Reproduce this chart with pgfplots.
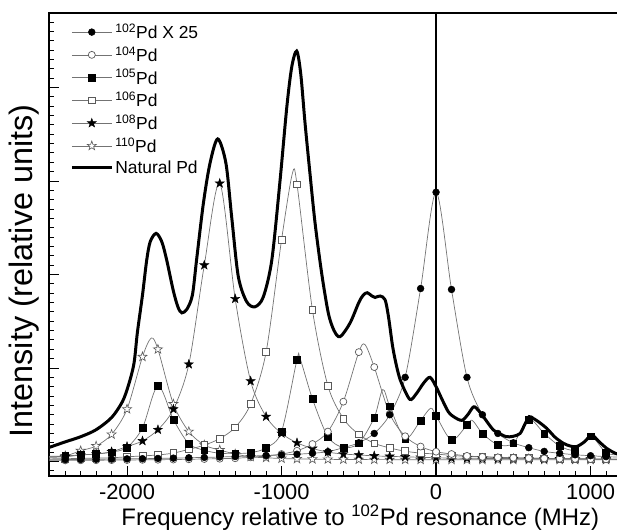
\documentclass[border=0pt]{standalone}
\usepackage{pgfplots}
\pgfplotsset{compat=1.18}
\usepackage{pgfplotstable}
\usepackage{fontspec}
\setmainfont{Liberation Sans}

\pgfdeclareplotmark{pstar}{%
  \pgfpathmoveto{\pgfpointpolar{90}{\pgfplotmarksize}}%
  \pgfpathlineto{\pgfpointpolar{126}{0.4\pgfplotmarksize}}%
  \pgfpathlineto{\pgfpointpolar{162}{\pgfplotmarksize}}%
  \pgfpathlineto{\pgfpointpolar{198}{0.4\pgfplotmarksize}}%
  \pgfpathlineto{\pgfpointpolar{234}{\pgfplotmarksize}}%
  \pgfpathlineto{\pgfpointpolar{270}{0.4\pgfplotmarksize}}%
  \pgfpathlineto{\pgfpointpolar{306}{\pgfplotmarksize}}%
  \pgfpathlineto{\pgfpointpolar{342}{0.4\pgfplotmarksize}}%
  \pgfpathlineto{\pgfpointpolar{18}{\pgfplotmarksize}}%
  \pgfpathlineto{\pgfpointpolar{54}{0.4\pgfplotmarksize}}%
  \pgfpathclose
  \pgfusepathqfillstroke
}

\pgfplotsset{
  isoline/.style={color=black!55, line width=0.7bp, smooth, tension=0.5, forget plot},
  isomarks/.style={only marks, forget plot, unbounded coords=discard},
  m102/.style={mark=*, mark size=3.4bp, mark options={fill=black, draw=black, line width=0.5bp}},
  m104/.style={mark=*, mark size=3.5bp, mark options={fill=white, draw=black!65, line width=0.7bp}},
  m105/.style={mark=square*, mark size=3.4bp, mark options={fill=black, draw=black, line width=0.5bp}},
  m106/.style={mark=square*, mark size=3.4bp, mark options={fill=white, draw=black!65, line width=0.7bp}},
  m108/.style={mark=pstar, mark size=4.8bp, mark options={fill=black, draw=black, line width=0.4bp}},
  m110/.style={mark=pstar, mark size=4.8bp, mark options={fill=white, draw=black!65, line width=0.6bp}},
}

% columns: x, y (line), ym (marker; nan = no marker)
\pgfplotstableread{
x y ym
-2505 0.018 nan
-2400 0.020 0.020
-2300 0.022 0.022
-2200 0.024 0.024
-2100 0.026 0.026
-2000 0.028 0.028
-1900 0.030 0.030
-1800 0.033 0.033
-1700 0.036 0.036
-1600 0.040 0.040
-1500 0.044 0.044
-1400 0.048 0.048
-1300 0.053 0.053
-1200 0.058 0.058
-1100 0.064 0.064
-1000 0.070 0.070
-900 0.078 0.078
-800 0.088 0.088
-700 0.105 0.105
-600 0.148 0.148
-500 0.200 0.200
-400 0.300 0.300
-300 0.500 0.500
-200 0.900 0.900
-100 1.850 1.850
0 2.880 2.880
100 1.840 1.840
200 0.900 0.900
300 0.500 0.500
400 0.300 0.300
500 0.200 0.200
600 0.148 0.148
700 0.108 0.108
800 0.088 0.088
900 0.072 0.072
1000 0.062 0.062
1100 0.052 0.052
1190 0.047 nan
}\tabA

\pgfplotstableread{
x y ym
-2505 0.012 nan
-2400 0.012 0.012
-2300 0.013 0.013
-2200 0.014 0.014
-2100 0.015 0.015
-2000 0.016 0.016
-1900 0.018 0.018
-1800 0.019 0.019
-1700 0.021 0.021
-1600 0.024 0.024
-1500 0.027 0.027
-1400 0.030 0.030
-1300 0.035 0.035
-1200 0.045 0.045
-1100 0.060 0.060
-1000 0.080 0.080
-900 0.115 0.115
-800 0.187 0.187
-700 0.320 0.320
-600 0.640 0.640
-500 1.170 1.170
-460 1.250 nan
-400 1.010 1.010
-300 0.510 0.510
-200 0.270 0.270
-100 0.160 0.160
0 0.105 0.105
100 0.080 0.080
200 0.060 0.060
300 0.050 0.050
400 0.044 0.044
500 0.040 0.040
600 0.036 0.036
700 0.033 0.033
800 0.030 0.030
900 0.028 0.028
1000 0.026 0.026
1100 0.024 0.024
1190 0.023 nan
}\tabB

\pgfplotstableread{
x y ym
-2505 0.055 nan
-2400 0.060 0.060
-2300 0.070 0.070
-2200 0.080 0.080
-2100 0.100 0.100
-2000 0.150 0.150
-1900 0.360 0.360
-1800 0.810 0.810
-1700 0.450 0.450
-1600 0.190 0.190
-1500 0.120 0.120
-1400 0.088 0.088
-1300 0.085 0.085
-1200 0.095 0.095
-1100 0.145 0.145
-1000 0.320 0.320
-900 1.090 1.090
-880 1.100 nan
-800 0.670 0.670
-700 0.265 0.265
-600 0.150 0.150
-500 0.195 0.195
-400 0.470 0.470
-345 0.770 nan
-300 0.590 0.590
-200 0.245 0.245
-100 0.440 0.440
-35 0.570 nan
0 0.490 0.490
100 0.230 0.230
200 0.390 0.390
235 0.440 nan
300 0.300 0.300
400 0.180 0.180
500 0.195 0.195
600 0.450 0.450
700 0.300 0.300
800 0.166 0.166
900 0.123 0.123
1000 0.270 0.270
1100 0.094 0.094
1190 0.070 nan
}\tabC

\pgfplotstableread{
x y ym
-2505 0.028 nan
-2400 0.030 0.030
-2300 0.033 0.033
-2200 0.036 0.036
-2100 0.040 0.040
-2000 0.050 0.050
-1900 0.060 0.060
-1800 0.070 0.070
-1700 0.090 0.090
-1600 0.130 0.130
-1500 0.175 0.175
-1400 0.245 0.245
-1300 0.365 0.365
-1200 0.615 0.615
-1100 1.170 1.170
-1000 2.370 2.370
-930 3.080 nan
-900 2.965 2.965
-800 1.620 1.620
-700 0.810 0.810
-600 0.460 0.460
-500 0.290 0.290
-400 0.195 0.195
-300 0.145 0.145
-200 0.110 0.110
-100 0.090 0.090
0 0.080 0.080
100 0.065 0.065
200 0.055 0.055
300 0.050 0.050
400 0.045 0.045
500 0.040 0.040
600 0.037 0.037
700 0.034 0.034
800 0.032 0.032
900 0.030 0.030
1000 0.028 0.028
1100 0.026 0.026
1190 0.025 nan
}\tabD

\pgfplotstableread{
x y ym
-2505 0.045 nan
-2400 0.050 0.050
-2300 0.070 0.070
-2200 0.080 0.080
-2100 0.105 0.105
-2000 0.160 0.160
-1900 0.220 0.220
-1800 0.340 0.340
-1700 0.560 0.560
-1600 1.040 1.040
-1500 2.100 2.100
-1400 2.975 2.975
-1300 1.740 1.740
-1200 0.860 0.860
-1100 0.480 0.480
-1000 0.300 0.300
-900 0.200 0.200
-800 0.140 0.140
-700 0.100 0.100
-600 0.080 0.080
-500 0.070 0.070
-400 0.060 0.060
-300 0.055 0.055
-200 0.050 0.050
-100 0.045 0.045
0 0.040 0.040
100 0.037 0.037
200 0.035 0.035
300 0.033 0.033
400 0.032 0.032
500 0.031 0.031
600 0.030 0.030
700 0.029 0.029
800 0.028 0.028
900 0.027 0.027
1000 0.026 0.026
1100 0.025 0.025
1190 0.024 nan
}\tabE

\pgfplotstableread{
x y ym
-2505 0.050 nan
-2400 0.060 0.060
-2300 0.115 0.115
-2200 0.166 0.166
-2100 0.290 0.290
-2000 0.560 0.560
-1900 1.120 1.120
-1843 1.320 nan
-1800 1.200 1.200
-1700 0.615 0.615
-1600 0.320 0.320
-1500 0.176 0.176
-1400 0.123 0.123
-1300 0.080 0.080
-1200 0.050 0.050
-1100 0.040 0.040
-1000 0.032 0.032
-900 0.028 0.028
-800 0.025 0.025
-700 0.023 0.023
-600 0.022 0.022
-500 0.021 0.021
-400 0.020 0.020
-300 0.020 0.020
-200 0.019 0.019
-100 0.019 0.019
0 0.019 0.019
100 0.018 0.018
200 0.018 0.018
300 0.018 0.018
400 0.018 0.018
500 0.018 0.018
600 0.018 0.018
700 0.018 0.018
800 0.018 0.018
900 0.018 0.018
1000 0.018 0.018
1100 0.018 0.018
1190 0.018 nan
}\tabF

\pgfplotstableread{
x y
-2505 0.150
-2400 0.210
-2300 0.265
-2200 0.340
-2100 0.470
-2030 0.640
-1990 0.820
-1955 1.050
-1933 1.380
-1900 1.780
-1873 2.150
-1850 2.350
-1812 2.440
-1775 2.350
-1744 2.160
-1701 1.830
-1670 1.650
-1645 1.590
-1612 1.630
-1577 1.780
-1550 2.155
-1506 2.760
-1463 3.190
-1413 3.450
-1360 3.190
-1323 2.620
-1280 1.980
-1226 1.710
-1172 1.655
-1118 1.760
-1063 2.155
-1010 3.000
-966 3.790
-934 4.220
-902 4.390
-876 4.150
-848 3.620
-816 3.080
-783 2.550
-740 2.010
-697 1.585
-660 1.400
-621 1.335
-557 1.480
-500 1.700
-471 1.780
-445 1.805
-415 1.770
-395 1.755
-362 1.770
-330 1.730
-308 1.550
-280 1.220
-250 0.980
-224 0.840
-170 0.665
-130 0.720
-80 0.840
-39 0.900
0 0.800
40 0.660
80 0.530
113 0.480
166 0.440
205 0.500
243 0.585
275 0.545
306 0.480
371 0.337
420 0.290
457 0.265
500 0.270
544 0.300
575 0.400
602 0.480
630 0.460
662 0.426
716 0.355
770 0.260
824 0.195
870 0.165
910 0.160
960 0.210
1007 0.283
1050 0.220
1104 0.141
1160 0.088
1190 0.075
}\tabN

\begin{document}
\begin{tikzpicture}
\begin{axis}[
  at={(49bp,54bp)}, anchor=south west,
  scale only axis, width=570bp, height=463bp,
  xmin=-2505, xmax=1184, ymin=-0.155, ymax=4.797,
  xtick={-2000,-1000,0,1000},
  ytick={0,1,2,3,4}, yticklabels={},
  extra x ticks={-2400,-2300,-2200,-2100,-1900,-1800,-1700,-1600,-1500,-1400,-1300,-1200,-1100,-900,-800,-700,-600,-500,-400,-300,-200,-100,100,200,300,400,500,600,700,800,900,1100},
  extra x tick labels={},
  extra x tick style={major tick length=5bp},
  extra y ticks={-0.1,0.1,0.2,0.3,0.4,0.5,0.6,0.7,0.8,0.9,1.1,1.2,1.3,1.4,1.5,1.6,1.7,1.8,1.9,2.1,2.2,2.3,2.4,2.5,2.6,2.7,2.8,2.9,3.1,3.2,3.3,3.4,3.5,3.6,3.7,3.8,3.9,4.1,4.2,4.3,4.4,4.5,4.6,4.7},
  extra y tick labels={},
  extra y tick style={major tick length=5bp},
  xtick pos=left, ytick pos=left,
  tick align=inside, major tick length=10bp,
  every tick/.append style={black, line width=1bp},
  axis line style={line width=1.5bp},
  /pgf/number format/assume math mode=true,
  /pgf/number format/1000 sep={},
  xticklabel style={font=\fontsize{22}{26}\selectfont, anchor=base, yshift=-23bp},
  xlabel={Frequency relative to \textsuperscript{102}Pd resonance (MHz)},
  ylabel={Intensity (relative units)},
  xlabel style={font=\fontsize{24}{28}\selectfont, at={(axis description cs:0.546,-0.106)}, anchor=base},
  ylabel style={font=\fontsize{32.5}{38}\selectfont, at={(axis description cs:-0.029,0.443)}, anchor=base},
  legend style={at={(0.037,0.981)}, anchor=north west, draw=none, fill=none,
    font=\fontsize{17.5}{21}\selectfont, nodes={font=\fontsize{17.5}{21}\selectfont},
    row sep=2.5bp, inner sep=0pt},
  legend cell align=left,
  legend image code/.code={\draw[mark repeat=2,mark phase=2,#1] plot coordinates {(0bp,0bp) (20bp,0bp) (40bp,0bp)};},
]
\addlegendimage{color=black!55, line width=0.7bp, m102}
\addlegendimage{color=black!55, line width=0.7bp, m104}
\addlegendimage{color=black!55, line width=0.7bp, m105}
\addlegendimage{color=black!55, line width=0.7bp, m106}
\addlegendimage{color=black!55, line width=0.7bp, m108}
\addlegendimage{color=black!55, line width=0.7bp, m110}
\addlegendimage{black, line width=3bp}
\legend{{\fontsize{17.5}{21}\selectfont\textsuperscript{102}Pd X 25},
  {\fontsize{17.5}{21}\selectfont\textsuperscript{104}Pd},
  {\fontsize{17.5}{21}\selectfont\textsuperscript{105}Pd},
  {\fontsize{17.5}{21}\selectfont\textsuperscript{106}Pd},
  {\fontsize{17.5}{21}\selectfont\textsuperscript{108}Pd},
  {\fontsize{17.5}{21}\selectfont\textsuperscript{110}Pd},
  {\fontsize{17.5}{21}\selectfont Natural Pd}}

\addplot[isoline] table[x=x,y=y] {\tabF};
\addplot[isoline] table[x=x,y=y] {\tabE};
\addplot[isoline] table[x=x,y=y] {\tabD};
\addplot[isoline] table[x=x,y=y] {\tabC};
\addplot[isoline] table[x=x,y=y] {\tabB};
\addplot[isoline] table[x=x,y=y] {\tabA};

\addplot[isomarks, m110] table[x=x,y=ym] {\tabF};
\addplot[isomarks, m108] table[x=x,y=ym] {\tabE};
\addplot[isomarks, m106] table[x=x,y=ym] {\tabD};
\addplot[isomarks, m105] table[x=x,y=ym] {\tabC};
\addplot[isomarks, m104] table[x=x,y=ym] {\tabB};
\addplot[isomarks, m102] table[x=x,y=ym] {\tabA};

\addplot[black, line width=3bp, smooth, tension=0.5, forget plot] table[x=x,y=y] {\tabN};
\addplot[black, line width=2bp, forget plot] coordinates {(0,-0.2) (0,5)};
\end{axis}
\pgfresetboundingbox
\useasboundingbox (0,0) rectangle (617bp,530bp);
\end{tikzpicture}
\end{document}
